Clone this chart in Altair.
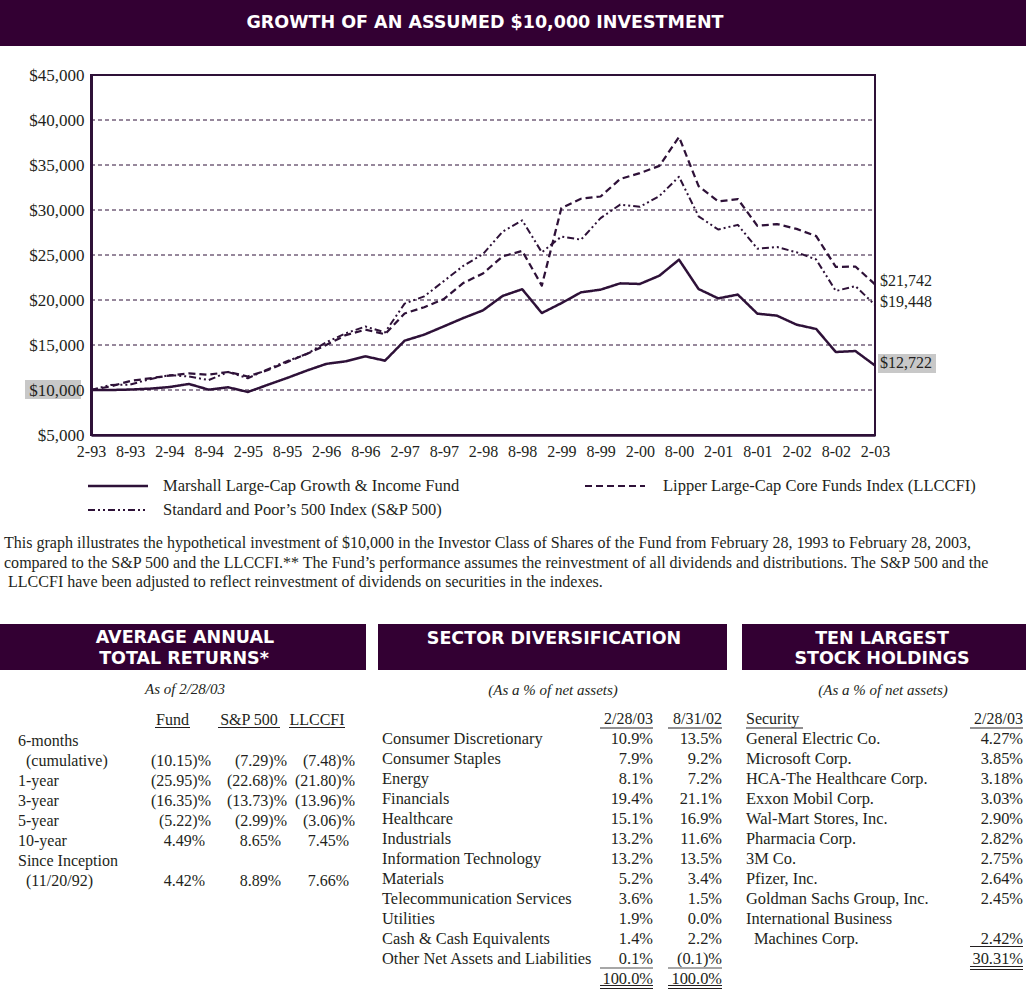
import altair as alt
import pandas as pd

# ---------------- data ----------------
SERIES = [
    "Marshall Large-Cap Growth & Income Fund",
    "Lipper Large-Cap Core Funds Index (LLCCFI)",
    "Standard and Poor\u2019s 500 Index (S&P 500)",
]
X_TICK_LABELS = ["2-93", "8-93", "2-94", "8-94", "2-95", "8-95", "2-96", "8-96", "2-97", "8-97",
                 "2-98", "8-98", "2-99", "8-99", "2-00", "8-00", "2-01", "8-01", "2-02", "8-02", "2-03"]
Y_TICKS = [5000, 10000, 15000, 20000, 25000, 30000, 35000, 40000, 45000]
GRID_VALUES = [10000, 15000, 20000, 25000, 30000, 35000, 40000]

# quarterly values, 2/93 .. 2/03
FUND = [10000, 10000, 10050, 10150, 10330, 10670, 10040, 10300, 9780, 10560,
        11330, 12150, 12900, 13190, 13740, 13260, 15480, 16150, 17070, 18000,
        18850, 20450, 21200, 18550, 19650, 20850, 21150, 21850, 21780, 22700,
        24480, 21220, 20180, 20600, 18480, 18260, 17260, 16780, 14220, 14330, 12722]
LIPPER = [10000, 10400, 11000, 11300, 11600, 11850, 11700, 12000, 11500, 12200,
          13100, 14000, 15000, 16100, 16700, 16200, 18500, 19200, 20100, 21900,
          22950, 24850, 25450, 21600, 30220, 31250, 31500, 33450, 34100, 34900,
          38120, 32650, 30950, 31220, 28240, 28440, 27900, 27100, 23680, 23720, 21742]
SP500 = [10000, 10560, 10600, 11200, 11650, 11500, 11100, 12000, 11300, 12300,
         13200, 14000, 15300, 16300, 17050, 16400, 19600, 20400, 22100, 23800,
         25100, 27600, 28850, 25300, 27050, 26700, 29100, 30600, 30350, 31550,
         33700, 29300, 27830, 28350, 25700, 25880, 25300, 24500, 21000, 21550, 19448]

TITLE = "GROWTH OF AN ASSUMED $10,000 INVESTMENT"
NOTE_LINES = [
    "This graph illustrates the hypothetical investment of $10,000 in the Investor Class of Shares of the Fund from February 28, 1993 to February 28, 2003,",
    "compared to the S&P 500 and the LLCCFI.** The Fund\u2019s performance assumes the reinvestment of all dividends and distributions. The S&P 500 and the",
    "LLCCFI have been adjusted to reflect reinvestment of dividends on securities in the indexes.",
]

AAR_TITLE = ["AVERAGE ANNUAL", "TOTAL RETURNS*"]
AAR_SUB = "As of 2/28/03"
AAR_COLS = ["Fund", "S&P 500", "LLCCFI"]
AAR_ROWS = ["6-months", "(cumulative)", "1-year", "3-year", "5-year", "10-year",
            "Since Inception", "(11/20/92)"]
AAR_FUND = ["", "(10.15)%", "(25.95)%", "(16.35)%", "(5.22)%", "4.49%", "", "4.42%"]
AAR_SP = ["", "(7.29)%", "(22.68)%", "(13.73)%", "(2.99)%", "8.65%", "", "8.89%"]
AAR_LL = ["", "(7.48)%", "(21.80)%", "(13.96)%", "(3.06)%", "7.45%", "", "7.66%"]

SECTOR_TITLE = "SECTOR DIVERSIFICATION"
SECTOR_SUB = "(As a % of net assets)"
SECTOR_COLS = ["2/28/03", "8/31/02"]
SECTORS = ["Consumer Discretionary", "Consumer Staples", "Energy", "Financials", "Healthcare",
           "Industrials", "Information Technology", "Materials", "Telecommunication Services",
           "Utilities", "Cash & Cash Equivalents", "Other Net Assets and Liabilities"]
SECTOR_FEB03 = ["10.9%", "7.9%", "8.1%", "19.4%", "15.1%", "13.2%", "13.2%", "5.2%", "3.6%",
                "1.9%", "1.4%", "0.1%"]
SECTOR_AUG02 = ["13.5%", "9.2%", "7.2%", "21.1%", "16.9%", "11.6%", "13.5%", "3.4%", "1.5%",
                "0.0%", "2.2%", "(0.1)%"]
SECTOR_TOTAL = ["100.0%", "100.0%"]

HOLD_TITLE = ["TEN LARGEST", "STOCK HOLDINGS"]
HOLD_SUB = "(As a % of net assets)"
HOLD_COLS = ["Security", "2/28/03"]
HOLD_ROWS = ["General Electric Co.", "Microsoft Corp.", "HCA-The Healthcare Corp.",
             "Exxon Mobil Corp.", "Wal-Mart Stores, Inc.", "Pharmacia Corp.", "3M Co.",
             "Pfizer, Inc.", "Goldman Sachs Group, Inc.", "International Business",
             "Machines Corp."]
HOLD_WEIGHTS = ["4.27%", "3.85%", "3.18%", "3.03%", "2.90%", "2.82%", "2.75%", "2.64%",
                "2.45%", "", "2.42%"]
HOLD_TOTAL = "30.31%"

# ---------------- style ----------------
PURPLE = "#2e1138"
BAR = "#330033"
INK = "#231f20"
SERIF = "Liberation Serif"
HEAD = "DejaVu Sans"
ONE = alt.InlineData(values=[{"k": 0}])


def box(x1, x2, y1, y2, color):
    return alt.Chart(ONE).mark_rect(color=color).encode(
        x=alt.value(x1), x2=alt.value(x2), y=alt.value(y1), y2=alt.value(y2))


def label(text, x, y, size=16, font=SERIF, align="left", weight="normal",
          style="normal", color=INK):
    return alt.Chart(ONE).mark_text(
        text=text, align=align, baseline="middle", font=font, fontSize=size,
        fontWeight=weight, fontStyle=style, color=color).encode(
        x=alt.value(x), y=alt.value(y))


def hline(x1, x2, y, color=INK, width=1.0):
    return alt.Chart(ONE).mark_rule(color=color, strokeWidth=width).encode(
        x=alt.value(x1), x2=alt.value(x2), y=alt.value(y))


def col_text(df, field, x, yscale, align="left", size=16):
    return alt.Chart(df).mark_text(
        align=align, baseline="middle", font=SERIF, fontSize=size, color=INK).encode(
        x=alt.value(x), y=alt.Y("row:Q", scale=yscale, axis=None), text=f"{field}:N")


# ---------------- line chart ----------------
n = len(FUND)
lines_df = pd.DataFrame({
    "q": list(range(n)) * 3,
    "value": FUND + LIPPER + SP500,
    "series": [SERIES[0]] * n + [SERIES[1]] * n + [SERIES[2]] * n,
})
grid_df = pd.DataFrame({"g": GRID_VALUES})
end_df = pd.DataFrame({"v": [LIPPER[-1], SP500[-1], FUND[-1]]})
end_df["label"] = end_df["v"].map(lambda v: "${:,}".format(v))

DASH_SP = [7, 3, 2, 3, 2, 3]
DASH_LL = [7, 4]

xs = alt.Scale(domain=[0, n - 1], range=[91, 875], nice=False, zero=False)
ys = alt.Scale(domain=[5000, 45000], range=[435, 75], nice=False, zero=False)
label_expr = "[" + ",".join(repr(t) for t in X_TICK_LABELS) + "][round(datum.value / 2)]"
x_axis = alt.Axis(orient="bottom", offset=435 - 992, values=list(range(0, n, 2)),
                  labelExpr=label_expr, title=None, grid=False, ticks=False, tickSize=0,
                  domainColor=PURPLE, domainWidth=2.5, labelFont=SERIF, labelFontSize=16,
                  labelColor=INK, labelPadding=8, labelOverlap=False, labelFlush=False,
                  zindex=1)
y_axis = alt.Axis(orient="left", offset=-91, values=Y_TICKS, format="$,.0f", title=None,
                  grid=False, ticks=False, tickSize=0, domainColor=PURPLE, domainWidth=3,
                  labelFont=SERIF, labelFontSize=17, labelColor=INK, labelPadding=7,
                  labelOverlap=False, zindex=1)

ten_box = box(25, 81, 380, 399, "#c8c8c8")
frame = alt.Chart(ONE).mark_rect(filled=False, stroke=PURPLE, strokeWidth=2).encode(
    x=alt.XDatum(0, type="quantitative", scale=xs, axis=x_axis),
    x2=alt.X2Datum(n - 1),
    y=alt.YDatum(5000, type="quantitative", scale=ys, axis=y_axis),
    y2=alt.Y2Datum(45000),
)
grid = alt.Chart(grid_df).mark_rule(color=PURPLE, strokeWidth=1, strokeDash=[4, 3]).encode(
    x=alt.XDatum(0, type="quantitative", scale=xs, axis=x_axis),
    x2=alt.X2Datum(n - 1),
    y=alt.Y("g:Q", scale=ys, axis=y_axis),
)
lines = alt.Chart(lines_df).mark_line(color=PURPLE, strokeJoin="round").encode(
    x=alt.X("q:Q", scale=xs, axis=x_axis),
    y=alt.Y("value:Q", scale=ys, axis=y_axis),
    strokeDash=alt.StrokeDash("series:N", legend=None, scale=alt.Scale(
        domain=SERIES, range=[[1, 0], DASH_LL, DASH_SP])),
    strokeWidth=alt.StrokeWidth("series:N", legend=None, scale=alt.Scale(
        domain=SERIES, range=[2.5, 2, 2.2])),
)
end_box = box(878, 936, 354, 373, "#c8c8c8")
end_text = alt.Chart(end_df).mark_text(
    align="left", baseline="middle", dx=5, dy=-3, font=SERIF, fontSize=16, color=INK).encode(
    x=alt.XDatum(n - 1, type="quantitative", scale=xs, axis=x_axis),
    y=alt.Y("v:Q", scale=ys, axis=y_axis),
    text="label:N",
)
plot = alt.layer(ten_box, frame, grid, lines, end_box, end_text)

# legend (manual, two columns)
legend = alt.layer(
    hline(88, 148, 486, PURPLE, 2.5),
    label(SERIES[0], 163, 486, 16.5),
    alt.Chart(ONE).mark_rule(color=PURPLE, strokeWidth=2, strokeDash=DASH_LL).encode(
        x=alt.value(585), x2=alt.value(645), y=alt.value(486)),
    label(SERIES[1], 663, 486, 16.5),
    alt.Chart(ONE).mark_rule(color=PURPLE, strokeWidth=2.2, strokeDash=DASH_SP).encode(
        x=alt.value(88), x2=alt.value(148), y=alt.value(510)),
    label(SERIES[2], 163, 510, 16.5),
)

# note paragraph
note_df = pd.DataFrame({"row": list(range(len(NOTE_LINES))), "t": NOTE_LINES})
note_y = alt.Scale(domain=[0, 2], range=[543, 582])
note = alt.layer(
    col_text(note_df[note_df["row"] < 2], "t", 4, note_y, size=16.05),
    col_text(note_df[note_df["row"] == 2], "t", 8, note_y, size=16.05),
)

# ---------------- tables ----------------
# Average annual total returns
aar_y = alt.Scale(domain=[0, len(AAR_ROWS) - 1], range=[740.5, 880.5])
aar_rows_df = pd.DataFrame({"row": list(range(len(AAR_ROWS))), "t": AAR_ROWS})
aar_cont = aar_rows_df["t"].str.startswith("(")
aar_layers = [
    box(0, 366, 624, 670, BAR),
    label(AAR_TITLE[0], 185, 638, 17.5, HEAD, "center", "bold", color="white"),
    label(AAR_TITLE[1], 184, 659, 17.5, HEAD, "center", "bold", color="white"),
    label(AAR_SUB, 185, 689, 15, align="center", style="italic"),
    col_text(aar_rows_df[~aar_cont], "t", 18, aar_y),
    col_text(aar_rows_df[aar_cont], "t", 26, aar_y),
]
col_centers = [172.5, 249, 317]
col_under = [(155, 190), (218, 280), (289, 345)]
col_right = [(211, 205), (287, 281), (355, 349)]
for name, cx, (u1, u2), (rp, rn), vals in zip(AAR_COLS, col_centers, col_under, col_right,
                                             [AAR_FUND, AAR_SP, AAR_LL]):
    aar_layers.append(label(name, cx, 720, 16, align="center"))
    aar_layers.append(hline(u1, u2, 727.5, INK, 1))
    dfc = pd.DataFrame({"row": list(range(len(vals))), "v": vals})
    dfc = dfc[dfc["v"] != ""]
    paren = dfc["v"].str.startswith("(")
    aar_layers.append(col_text(dfc[paren], "v", rp, aar_y, "right"))
    aar_layers.append(col_text(dfc[~paren], "v", rn, aar_y, "right"))
aar = alt.layer(*aar_layers)

# Sector diversification
sec_y = alt.Scale(domain=[0, len(SECTORS)], range=[738.5, 978.5])
sec_df = pd.DataFrame({
    "row": list(range(len(SECTORS) + 1)),
    "name": SECTORS + [""],
    "a": SECTOR_FEB03 + [SECTOR_TOTAL[0]],
    "b": SECTOR_AUG02 + [SECTOR_TOTAL[1]],
})
sec = alt.layer(
    box(378, 727, 624, 670, BAR),
    label(SECTOR_TITLE, 554, 639, 17.5, HEAD, "center", "bold", color="white"),
    label(SECTOR_SUB, 553, 690, 15, align="center", style="italic"),
    label(SECTOR_COLS[0], 653, 719, 16, align="right"),
    label(SECTOR_COLS[1], 722, 719, 16, align="right"),
    hline(600, 653, 728, INK, 1),
    hline(668, 722, 728, INK, 1),
    col_text(sec_df, "name", 382, sec_y, "left", 16.4),
    col_text(sec_df, "a", 653, sec_y, "right", 16.4),
    col_text(sec_df, "b", 722, sec_y, "right", 16.4),
    hline(600, 653, 968, "#8a8a8a", 1.5),
    hline(668, 722, 968, "#8a8a8a", 1.5),
    hline(600, 653, 985.5, INK, 1),
    hline(600, 653, 988.5, INK, 1),
    hline(668, 722, 985.5, INK, 1),
    hline(668, 722, 988.5, INK, 1),
)

# Ten largest holdings
hold_y = alt.Scale(domain=[0, len(HOLD_ROWS)], range=[738.5, 958.5])
hold_df = pd.DataFrame({
    "row": list(range(len(HOLD_ROWS) + 1)),
    "name": HOLD_ROWS + [""],
    "w": HOLD_WEIGHTS + [HOLD_TOTAL],
})
# a name continues onto the next row when its weight is blank
hold_cont = hold_df["w"].shift(1).fillna("x") == ""
hold = alt.layer(
    box(742, 1026, 624, 670, BAR),
    label(HOLD_TITLE[0], 882, 638.5, 17.5, HEAD, "center", "bold", color="white"),
    label(HOLD_TITLE[1], 882, 659, 17.5, HEAD, "center", "bold", color="white"),
    label(HOLD_SUB, 883, 690, 15, align="center", style="italic"),
    label(HOLD_COLS[0], 746, 719, 16, align="left"),
    label(HOLD_COLS[1], 1023, 719, 16, align="right"),
    hline(746, 803, 728, INK, 1),
    hline(970, 1023, 728, INK, 1),
    col_text(hold_df[~hold_cont], "name", 746, hold_y, "left", 16.4),
    col_text(hold_df[hold_cont], "name", 754, hold_y, "left", 16.4),
    col_text(hold_df, "w", 1023, hold_y, "right", 16.4),
    hline(970, 1023, 946.5, INK, 1),
    hline(970, 1023, 966.5, INK, 1),
    hline(970, 1023, 969.5, INK, 1),
)

# ---------------- page ----------------
chart = alt.layer(
    box(0, 1026, 0, 46, BAR),
    label(TITLE, 485, 23, 17.5, HEAD, "center", "bold", color="white"),
    plot,
    legend,
    note,
    aar,
    sec,
    hold,
).resolve_scale(
    x="independent", y="independent"
).properties(
    width=1026, height=992, padding=0,
    autosize=alt.AutoSizeParams(type="none"),
).configure_view(stroke=None)

chart.save("out.html", embed_options={"renderer": "svg", "actions": False})
